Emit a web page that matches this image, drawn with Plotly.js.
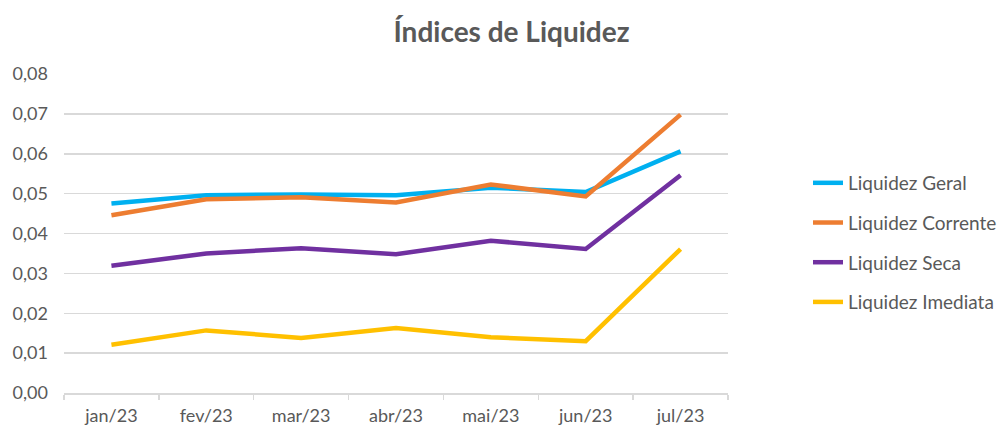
<!DOCTYPE html>
<html>
<head>
<meta charset="utf-8">
<script src="https://cdn.plot.ly/plotly-3.0.1.min.js"></script>
<style>html,body{margin:0;padding:0;background:#fff}#chart{width:1003px;height:427px}</style>
</head>
<body>
<div id="chart"></div>
<script>
const months = ["jan/23","fev/23","mar/23","abr/23","mai/23","jun/23","jul/23"];
const liquidezGeral     = [0.0475,0.0496,0.0498,0.0496,0.0515,0.0504,0.0606];
const liquidezCorrente  = [0.0446,0.0486,0.0491,0.0478,0.0523,0.0493,0.0698];
const liquidezSeca      = [0.0319,0.0350,0.0363,0.0348,0.0382,0.0361,0.0546];
const liquidezImediata  = [0.0121,0.0157,0.0138,0.0163,0.0140,0.0130,0.0361];

const names = ["Liquidez Geral","Liquidez Corrente","Liquidez Seca","Liquidez Imediata"];
const series = [liquidezGeral, liquidezCorrente, liquidezSeca, liquidezImediata];
const colors = ["#00B0F0","#ED7D31","#7030A0","#FFC000"];

const traces = series.map((ys,i)=>({
  type:"scatter", mode:"lines", x:months, y:ys, name:names[i],
  legendgroup:"g"+i,
  line:{color:colors[i], width:4.5}
}));

const font = "Lato, 'Open Sans', sans-serif";
const layout = {
  width:1003, height:427,
  margin:{l:64, r:275, t:74, b:34},
  paper_bgcolor:"#fff", plot_bgcolor:"#fff",
  separators:",.",
  font:{family:font, color:"#595959", size:18},
  title:{text:"<b>Índices de Liquidez</b>", x:0.51, xref:"container", xanchor:"center", y:0.925, yanchor:"middle",
         font:{family:font, size:28, color:"#595959"}},
  xaxis:{type:"category", showgrid:false, showline:true, linecolor:"#D9D9D9", linewidth:1.5,
         ticks:"outside", tickson:"boundaries", ticklen:5, tickcolor:"#D9D9D9", tickwidth:1.5,
         ticklabelstandoff:6,
         tickfont:{family:font, size:18, color:"#595959"}, range:[-0.5,6.5], zeroline:false},
  yaxis:{range:[0,0.08], dtick:0.01, tickformat:".2f", showgrid:true, gridcolor:"#D9D9D9", gridwidth:1.5,
         zeroline:false, showline:false, ticks:"", ticklen:0, ticklabelstandoff:15,
         tickfont:{family:font, size:18, color:"#595959"}},
  showlegend:true,
  legend:{xref:"container", yref:"container", x:0.8056, xanchor:"left", y:0.616, yanchor:"top", orientation:"v",
          font:{family:font, size:19, color:"#595959"}, tracegroupgap:12, bgcolor:"rgba(0,0,0,0)"}
};

Plotly.newPlot("chart", traces, layout, {displayModeBar:false, staticPlot:true});
</script>
</body>
</html>
